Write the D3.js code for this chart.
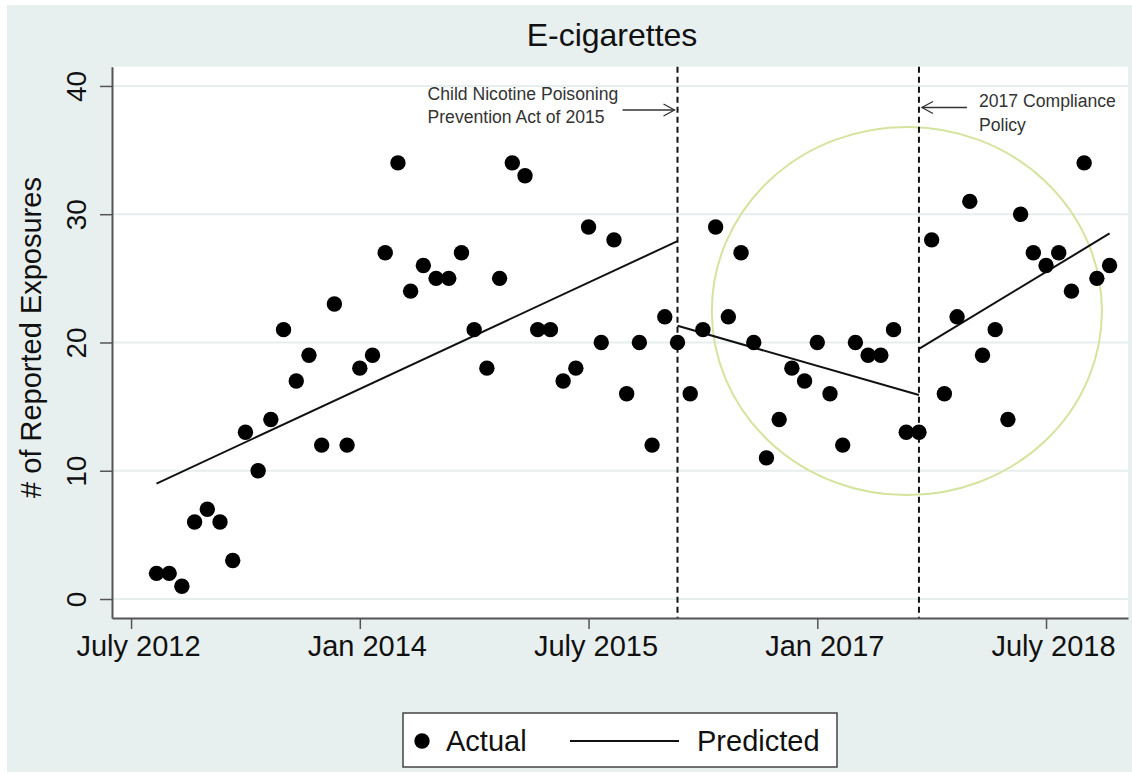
<!DOCTYPE html>
<html><head><meta charset="utf-8">
<script src="https://cdn.jsdelivr.net/npm/d3@7"></script>
<style>
body{margin:0;background:#fff}
svg{display:block}
text{font-family:"Liberation Sans",Arial,Helvetica,sans-serif}
</style>
</head><body>
<svg id="c" width="1132" height="773"></svg>
<script>
// ---------------- data ----------------
const months = [
 "2012-09","2012-10","2012-11","2012-12",
 "2013-01","2013-02","2013-03","2013-04","2013-05","2013-06","2013-07","2013-08","2013-09","2013-10","2013-11","2013-12",
 "2014-01","2014-02","2014-03","2014-04","2014-05","2014-06","2014-07","2014-08","2014-09","2014-10","2014-11","2014-12",
 "2015-01","2015-02","2015-03","2015-04","2015-05","2015-06","2015-07","2015-08","2015-09","2015-10","2015-11","2015-12",
 "2016-01","2016-02","2016-03","2016-04","2016-05","2016-06","2016-07","2016-08","2016-09","2016-10","2016-11","2016-12",
 "2017-01","2017-02","2017-03","2017-04","2017-05","2017-06","2017-07","2017-08","2017-09","2017-10","2017-11","2017-12",
 "2018-01","2018-02","2018-03","2018-04","2018-05","2018-06","2018-07","2018-08","2018-09","2018-10","2018-11","2018-12"
];
const actual = [
 2,2,1,6,
 7,6,3,13,10,14,21,17,19,12,23,12,
 18,19,27,34,24,26,25,25,27,21,18,25,
 34,33,21,21,17,18,29,20,28,16,20,12,
 22,20,16,21,29,22,27,20,11,14,18,17,
 20,16,12,20,19,19,21,13,13,28,16,22,
 31,19,21,14,30,27,26,27,24,34,25,26
];
// predicted (segmented regression) – endpoints of each segment
const predictedSegments = [
 [{m:"2012-09", v:9.0},  {m:"2016-02", v:27.9}],
 [{m:"2016-02", v:21.3}, {m:"2017-09", v:15.9}],
 [{m:"2017-09", v:19.5}, {m:"2018-12", v:28.5}]
];
const interventions = ["2016-02","2017-09"];
const xTickMonths = ["2012-07","2014-01","2015-07","2017-01","2018-07"];
const xTickLabels = ["July 2012","Jan 2014","July 2015","Jan 2017","July 2018"];
const yTicks = [0,10,20,30,40];
const title = "E-cigarettes";
const yTitle = "# of Reported Exposures";
const annotations = [
 {lines:["Child Nicotine Poisoning","Prevention Act of 2015"], at:"2016-02"},
 {lines:["2017 Compliance","Policy"], at:"2017-09"}
];
const highlight = {cx:"2017-08", cy:22.45, rxMonths:15.35, ryUnits:14.35};
const legendLabels = ["Actual","Predicted"];

// ---------------- helpers ----------------
const mi = s => { const [y,m] = s.split("-").map(Number); return (y-2012)*12 + (m-7); };

const svg = d3.select("#c");
const FONT = '"Liberation Sans",Arial,Helvetica,sans-serif';
const plot = {l:112, r:1128, t:66.7, b:618};

svg.append("rect").attr("x",7).attr("y",5).attr("width",1125).attr("height",767).attr("fill","#e8efef");
svg.append("rect").attr("x",plot.l).attr("y",plot.t).attr("width",plot.r-plot.l).attr("height",plot.b-plot.t).attr("fill","#fff");

const x = d3.scaleLinear().domain([-1.5, 78.45]).range([plot.l, plot.r]);
const y = d3.scaleLinear().domain([-1.48, 41.5]).range([plot.b, plot.t]);

// gridlines
svg.append("g").selectAll("line").data(yTicks).join("line")
  .attr("x1",plot.l).attr("x2",plot.r)
  .attr("y1",d=>y(d)).attr("y2",d=>y(d))
  .attr("stroke","#e6eeee").attr("stroke-width",2);

// highlight ellipse
svg.append("ellipse")
  .attr("cx", x(mi(highlight.cx)+0.05)).attr("cy", y(highlight.cy))
  .attr("rx", x(highlight.rxMonths)-x(0)).attr("ry", y(0)-y(highlight.ryUnits))
  .attr("fill","none").attr("stroke","#d4e49e").attr("stroke-width",2);

// intervention dashed lines
svg.append("g").selectAll("line").data(interventions).join("line")
  .attr("x1",d=>x(mi(d))).attr("x2",d=>x(mi(d)))
  .attr("y1",plot.t).attr("y2",plot.b)
  .attr("stroke","#111").attr("stroke-width",2).attr("stroke-dasharray","6,4");

// predicted lines
const line = d3.line().x(d=>x(mi(d.m))).y(d=>y(d.v));
svg.append("g").selectAll("path").data(predictedSegments).join("path")
  .attr("d",line).attr("fill","none").attr("stroke","#111").attr("stroke-width",2);

// actual points
svg.append("g").selectAll("circle").data(actual).join("circle")
  .attr("cx",(d,i)=>x(mi(months[i]))).attr("cy",d=>y(d)).attr("r",7.7).attr("fill","#000");

// axes
const xAxis = d3.axisBottom(x).tickValues(xTickMonths.map(mi))
  .tickFormat((d,i)=>xTickLabels[i]).tickSize(11).tickSizeOuter(0).tickPadding(8);
const gx = svg.append("g").attr("transform",`translate(0,${plot.b})`).call(xAxis);
gx.select(".domain").attr("stroke","#555").attr("stroke-width",2);
gx.selectAll(".tick line").attr("stroke","#555").attr("stroke-width",1.5);
gx.selectAll(".tick text").attr("font-family",FONT).attr("font-size",29).attr("fill","#111")
  .attr("x",7).attr("y",38).attr("dy",0);

const yAxis = d3.axisLeft(y).tickValues(yTicks).tickSize(12).tickSizeOuter(0);
const gy = svg.append("g").attr("transform",`translate(${plot.l},0)`).call(yAxis);
gy.select(".domain").attr("stroke","#555").attr("stroke-width",2);
gy.selectAll(".tick line").attr("stroke","#555").attr("stroke-width",1.5);
gy.selectAll(".tick text").attr("font-family",FONT).attr("font-size",28).attr("fill","#111")
  .attr("transform","rotate(-90)").attr("x",0).attr("y",-26).attr("dy",0).attr("text-anchor","middle");

// title
svg.append("text").attr("x",612).attr("y",46).attr("text-anchor","middle")
  .attr("font-size",32).attr("fill","#111").text(title);
// y title
svg.append("text").attr("transform","translate(41,337.5) rotate(-90)").attr("text-anchor","middle")
  .attr("font-size",29).attr("fill","#111").text(yTitle);

// annotations
const a0 = annotations[0], a0x = x(mi(a0.at));
svg.append("text").attr("font-size",17.6).attr("fill","#333")
  .selectAll("tspan").data(a0.lines).join("tspan")
  .attr("x",a0x-250).attr("y",(d,i)=>100+i*23).text(d=>d);
svg.append("line").attr("x1",a0x-55).attr("x2",a0x-3).attr("y1",110).attr("y2",110)
  .attr("stroke","#333").attr("stroke-width",1.3);
svg.append("path").attr("d",`M${a0x-14},104 L${a0x-3},110 L${a0x-14},116`)
  .attr("fill","none").attr("stroke","#333").attr("stroke-width",1.3);

const a1 = annotations[1], a1x = x(mi(a1.at));
svg.append("text").attr("font-size",17.6).attr("fill","#333")
  .selectAll("tspan").data(a1.lines).join("tspan")
  .attr("x",a1x+60).attr("y",(d,i)=>107+i*24).text(d=>d);
svg.append("line").attr("x1",a1x+48).attr("x2",a1x+3).attr("y1",107.5).attr("y2",107.5)
  .attr("stroke","#333").attr("stroke-width",1.3);
svg.append("path").attr("d",`M${a1x+14},101.5 L${a1x+3},107.5 L${a1x+14},113.5`)
  .attr("fill","none").attr("stroke","#333").attr("stroke-width",1.3);

// legend
const lg = svg.append("g");
lg.append("rect").attr("x",403).attr("y",713).attr("width",434).attr("height",54)
  .attr("fill","#fff").attr("stroke","#444").attr("stroke-width",1.5);
lg.append("circle").attr("cx",422).attr("cy",741).attr("r",7.7).attr("fill","#000");
lg.append("text").attr("x",446).attr("y",751).attr("font-size",29).attr("fill","#111").text(legendLabels[0]);
lg.append("line").attr("x1",570).attr("x2",679).attr("y1",741).attr("y2",741).attr("stroke","#111").attr("stroke-width",2);
lg.append("text").attr("x",697).attr("y",751).attr("font-size",29).attr("fill","#111").text(legendLabels[1]);
</script>
</body></html>
